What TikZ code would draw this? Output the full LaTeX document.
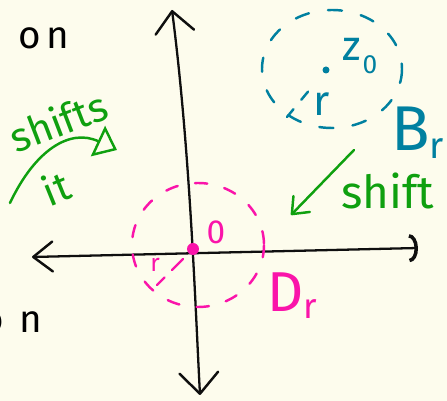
\documentclass[tikz,border=0pt]{standalone}
\usepackage{fontspec}
\setmainfont{Fira Sans}
\usepackage{tikz}
\usetikzlibrary{arrows.meta}
\definecolor{mybg}{RGB}{253,252,237}
\definecolor{mydark}{RGB}{15,15,15}
\definecolor{myteal}{RGB}{0,128,160}
\definecolor{mypink}{RGB}{250,20,170}
\definecolor{mygreen}{RGB}{15,160,15}
\tikzset{
  axis/.style={draw=mydark, line width=1.3pt, line cap=round},
  pinkdash/.style={draw=mypink, line width=1.4pt, line cap=round,
    dash pattern=on 7pt off 10pt},
  tealdash/.style={draw=myteal, line width=1.4pt, line cap=round,
    dash pattern=on 8pt off 11pt},
  greenarrow/.style={draw=mygreen, line width=1.4pt, line cap=round},
  hand/.style={inner sep=0pt, font=\fontsize{22}{24}\selectfont}
}
\newcommand{\hsub}[2]{#1\raisebox{-0.12em}{\fontsize{#2}{#2}\selectfont r}}
\begin{document}
\begin{tikzpicture}[x=0.02cm, y=-0.02cm]
  \fill[mybg] (0,0) rectangle (447,401);
  \useasboundingbox (0,0) rectangle (447,401);

  % Axes
  \coordinate (O) at (193,249);
  \coordinate (xl) at (32,257);
  \coordinate (xr) at (418,248);
  \coordinate (yt) at (172,10);
  \coordinate (yb) at (200,395);
  \draw[axis, {Straight Barb[length=11pt, width=17pt, line width=1.4pt, round]}-{Arc Barb[length=5pt, width=16pt, line width=2pt]}] (xl) -- (xr);
  \draw[axis, {Straight Barb[length=12pt, width=22pt, line width=1.4pt, round]}-{Straight Barb[length=12pt, width=22pt, line width=1.4pt, round]}]
    (yt) .. controls (190,150) and (195,300) .. (yb);

  % Disc D_r at the origin (pink)
  \draw[pinkdash] (198,245) ellipse [x radius=66, y radius=62];
  \draw[draw=mypink, line width=1.4pt, line cap=round,
    dash pattern=on 0pt off 8pt on 9pt off 6pt on 6pt off 20pt] (O) -- (150,292);
  \fill[mypink] (O) circle [radius=6];
  \node[hand, text=mypink, font=\fontsize{19}{20}\selectfont] (zero) at (216,232) {0};
  \node[hand, text=mypink, font=\fontsize{14}{16}\selectfont] (rpink) at (155,265) {r};
  \node[hand, text=mypink, font=\fontsize{32}{34}\selectfont, anchor=west] (Dr) at (267,296) {\hsub{D}{20}};

  % Disc B_r around z_0 (teal)
  \coordinate (z) at (326,70);
  \draw[tealdash] (332,69) ellipse [x radius=70, y radius=59];
  \draw[draw=myteal, line width=1.4pt, line cap=round,
    dash pattern=on 0pt off 16pt on 6pt off 7pt on 6pt off 20pt] (z) -- (287,117);
  \fill[myteal] (z) circle [radius=3.5];
  \node[hand, text=myteal, font=\fontsize{24}{26}\selectfont, anchor=west] (zlab) at (342,56)
    {z\kern1pt\raisebox{-0.3em}{\fontsize{15}{16}\selectfont 0}};
  \node[hand, text=myteal, font=\fontsize{24}{26}\selectfont] (rteal) at (322,104) {r};
  \node[hand, text=myteal, font=\fontsize{36}{38}\selectfont, anchor=west] (Br) at (391,133) {\hsub{B}{21}};

  % Shift arrows (green)
  \coordinate (sa) at (354,150);
  \coordinate (sb) at (291,215);
  \draw[greenarrow, -{Straight Barb[length=8pt, width=13pt, line width=1.4pt, round]}] (sa) -- (sb);
  \node[hand, text=mygreen, font=\fontsize{26}{28}\selectfont] (shift) at (388,191) {shift};
  \coordinate (ca) at (10,203);
  \coordinate (cb) at (117,150);
  \draw[greenarrow, -{Triangle[open, length=12pt, width=19pt, line width=1.4pt]}]
    (ca) .. controls (35,150) and (70,128) .. (cb);
  \node[hand, text=mygreen, font=\fontsize{23}{25}\selectfont, rotate=21] (shifts) at (58,121) {shifts};
  \node[hand, text=mygreen, font=\fontsize{23}{25}\selectfont, rotate=22] (it) at (56,188) {it};

  % Left margin text
  \node[hand] (on1) at (44,38) {o\kern3pt n};
  \node[hand, anchor=east] (on2) at (43,322) {o\kern9pt n};
\end{tikzpicture}
\end{document}
